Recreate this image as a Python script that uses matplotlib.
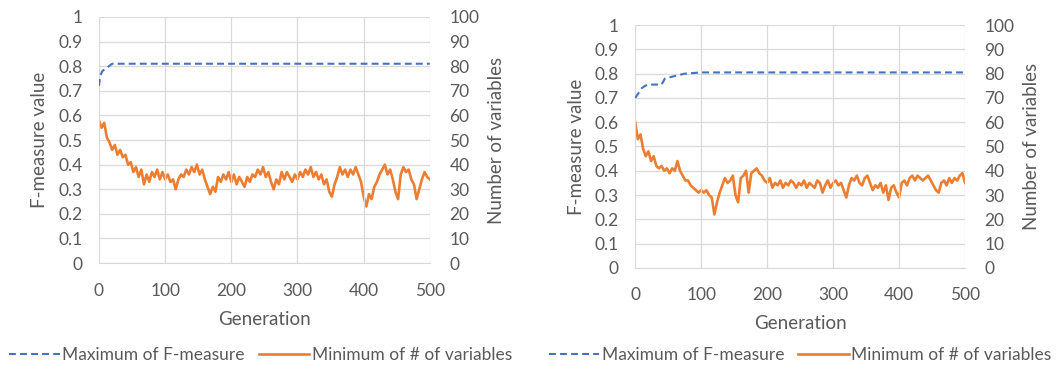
import numpy as np
import matplotlib
matplotlib.use("Agg")
import matplotlib.pyplot as plt

plt.rcParams['font.family'] = ['Lato', 'DejaVu Sans']

# generations sampled every 4 for the noisy series
gen = np.arange(0, 501, 4)

# left run: minimum number of variables
left_vars = [58, 55, 57, 51, 49, 46, 48, 44, 46, 43,
             44, 40, 41, 37, 39, 35, 38, 32, 36, 33,
             37, 35, 38, 34, 37, 34, 36, 33, 34, 30,
             34, 36, 35, 38, 36, 39, 37, 40, 36, 38,
             34, 31, 28, 31, 29, 35, 33, 36, 34, 37,
             33, 36, 32, 35, 33, 31, 35, 33, 36, 35,
             38, 36, 39, 35, 37, 33, 30, 34, 32, 37,
             34, 37, 35, 33, 36, 34, 37, 35, 38, 36,
             39, 35, 37, 34, 36, 32, 34, 29, 27, 32,
             35, 39, 36, 38, 35, 38, 36, 39, 36, 33,
             27, 23, 28, 26, 31, 33, 36, 38, 40, 36,
             38, 34, 29, 26, 36, 39, 37, 38, 34, 32,
             26, 30, 34, 37, 35, 34]

# right run: minimum number of variables
right_vars = [60, 53, 55, 49, 46, 48, 44, 46, 42, 41,
              42, 40, 41, 39, 41, 40, 44, 40, 38, 36,
              36, 34, 33, 32, 31, 32, 31, 32, 30, 29,
              22, 27, 31, 34, 37, 35, 36, 38, 30, 27,
              37, 38, 40, 31, 39, 40, 41, 39, 38, 36,
              35, 37, 33, 35, 34, 36, 33, 35, 34, 36,
              35, 33, 35, 34, 36, 33, 35, 34, 33, 36,
              35, 31, 34, 36, 33, 35, 36, 34, 35, 32,
              29, 34, 37, 36, 38, 35, 34, 37, 38, 35,
              32, 34, 33, 35, 31, 34, 28, 33, 34, 31,
              29, 35, 36, 34, 37, 38, 36, 38, 37, 36,
              37, 38, 36, 34, 32, 31, 35, 36, 34, 37,
              35, 37, 36, 38, 39, 35]

# maximum F-measure (points where it changes)
left_f_gen = [0, 2, 5, 10, 20, 500]
left_f_val = [0.72, 0.76, 0.78, 0.79, 0.81, 0.81]

right_f_gen = [0, 5, 10, 15, 20, 40, 45, 60, 75, 100, 500]
right_f_val = [0.70, 0.72, 0.74, 0.75, 0.755, 0.755, 0.78, 0.79, 0.80, 0.805, 0.805]

BLUE = '#4472C4'
ORANGE = '#ED7D31'
GRAY = '#595959'
GRID = '#D9D9D9'

fig = plt.figure(figsize=(10.64, 3.69), dpi=100)


def draw(rect, f_gen, f_val, n_vars, legend_x):
    ax = fig.add_axes(rect)
    ax2 = ax.twinx()
    ax.set_zorder(ax2.get_zorder() + 1)
    ax.patch.set_visible(False)

    l1, = ax.plot(f_gen, f_val, color=BLUE, lw=1.5, ls=(0, (3.3, 2)),
                  label='Maximum of F-measure')
    l2, = ax2.plot(gen, n_vars, color=ORANGE, lw=1.9,
                   label='Minimum of # of variables')

    ax.set_xlim(0, 500)
    ax.set_ylim(0, 1)
    ax2.set_ylim(0, 100)
    ax.set_xticks(range(0, 501, 100))
    ax.set_yticks(np.arange(0, 1.01, 0.1))
    ax.set_yticklabels(['0', '0.1', '0.2', '0.3', '0.4', '0.5',
                        '0.6', '0.7', '0.8', '0.9', '1'])
    ax2.set_yticks(range(0, 101, 10))

    ax2.grid(True, color=GRID, lw=0.9)
    ax.xaxis.grid(True, color=GRID, lw=0.9)
    ax2.set_axisbelow(True)
    for a in (ax, ax2):
        for s in a.spines.values():
            s.set_visible(False)
    ax.spines['bottom'].set_visible(True)
    ax.spines['bottom'].set_color(GRID)

    ax.tick_params(axis='y', length=0, pad=12, labelsize=12.5, labelcolor=GRAY)
    ax.tick_params(axis='x', length=0, pad=14, labelsize=12.5, labelcolor=GRAY)
    ax2.tick_params(axis='y', length=0, pad=14, labelsize=12.5, labelcolor=GRAY)

    ax.set_ylabel('F-measure value', fontsize=13.5, color=GRAY)
    ax.yaxis.set_label_coords(-0.153, 0.5)
    ax2.set_ylabel('Number of variables', fontsize=13.5, color=GRAY)
    ax2.yaxis.set_label_coords(1.175, 0.5)
    ax.set_xlabel('Generation', fontsize=13.5, color=GRAY)
    ax.xaxis.label.set_va('center')
    ax.xaxis.set_label_coords(0.5, -0.23)

    fig.legend(handles=[l1, l2], loc='center', ncol=2, frameon=False,
               bbox_to_anchor=(legend_x, 0.038), fontsize=12.5,
               labelcolor=GRAY, handlelength=2.9, handletextpad=0.15,
               columnspacing=0.8, borderpad=0.2)


draw([0.093, 0.287, 0.311, 0.667], left_f_gen, left_f_val, left_vars, 0.245)
draw([0.597, 0.274, 0.310, 0.658], right_f_gen, right_f_val, right_vars, 0.752)

fig.savefig('out.png', dpi=100)
